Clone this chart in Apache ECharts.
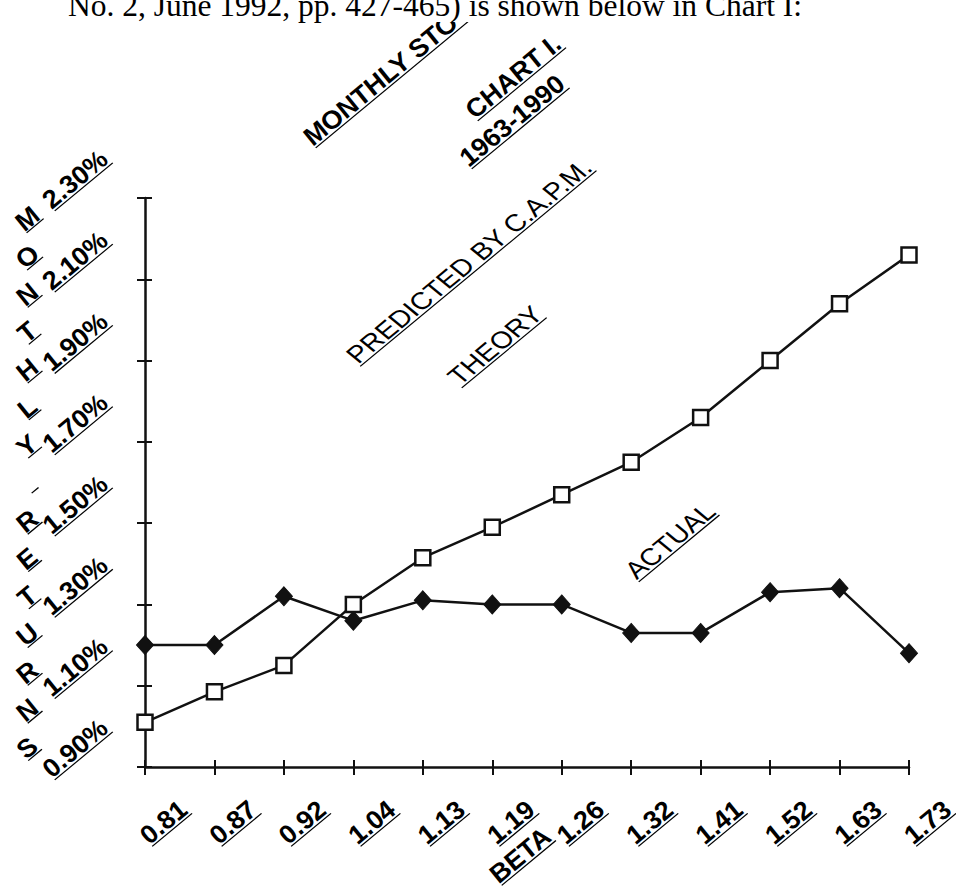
<!DOCTYPE html>
<html><head><meta charset="utf-8">
<script src="https://cdn.jsdelivr.net/npm/echarts@6/dist/echarts.min.js"></script>
<style>html,body{margin:0;padding:0;background:#fff}#c{width:956px;height:888px}</style>
</head><body><div id="c"></div>
<script>
// ---- data ----
const betaLabels = ['0.81','0.87','0.92','1.04','1.13','1.19','1.26','1.32','1.41','1.52','1.63','1.73'];
const theoryReturns = [1.01,1.085,1.15,1.30,1.415,1.49,1.57,1.65,1.76,1.90,2.04,2.16];
const actualReturns = [1.20,1.20,1.32,1.26,1.31,1.30,1.30,1.23,1.23,1.33,1.34,1.18];
const yTickValues = [0.9,1.1,1.3,1.5,1.7,1.9,2.1,2.3];
const yTickLabels = ['0.90%','1.10%','1.30%','1.50%','1.70%','1.90%','2.10%','2.30%'];
const yAxisTitle = 'MONTHLY RETURNS';
const xAxisTitle = 'BETA';
const titleLines = ['MONTHLY STOCK RETURNS','CHART I.','1963-1990'];
const theoryNotes = ['PREDICTED BY C.A.P.M.','THEORY'];
const actualNote = 'ACTUAL';
const introText = 'No. 2, June 1992, pp. 427-465) is shown below in Chart I:';

// ---- helpers ----
const INK = '#111';
const ROT = Math.PI / 4;      // 45 degree text
const SX = 1.207;             // horizontal stretch of the rotated text
const BI = 'italic bold 24px "Liberation Sans", Arial, sans-serif';
const REG = '24px "Liberation Sans", Arial, sans-serif';
const cv = document.createElement('canvas').getContext('2d');
function tw(t, f){ cv.font = f; return cv.measureText(t).width; }
function ulText(text, x, y, font, z){
  z = z || 5;
  const w = tw(text, font);
  return {type:'group', x:x, y:y, scaleX:SX, children:[
    {type:'group', rotation:ROT, children:[
      {type:'text', z:z, style:{text:text, x:0, y:0, font:font, fill:'#000', align:'left', verticalAlign:'bottom', textAlign:'left', textVerticalAlign:'bottom'}},
      {type:'line', z:z, shape:{x1:0, y1:-1.5, x2:w, y2:-1.5}, style:{stroke:'#000', lineWidth:1.1}}
    ]}
  ]};
}
function ulChar(ch, cx, cy, font){
  const w = Math.max(tw(ch, font), 8);
  return {type:'group', x:cx, y:cy, scaleX:SX, children:[
    {type:'group', rotation:ROT, children:[
      {type:'text', z:5, style:{text:ch, x:0, y:0, font:font, fill:'#000', align:'center', verticalAlign:'middle', textAlign:'center', textVerticalAlign:'middle'}},
      {type:'line', z:5, shape:{x1:-w/2, y1:9.5, x2:w/2, y2:9.5}, style:{stroke:'#000', lineWidth:1.1}}
    ]}
  ]};
}

const chart = echarts.init(document.getElementById('c'), null, {renderer:'svg', width:956, height:888});
const axisLineStyle = {color:INK, width:2.5};
const tickStyle = {color:INK, width:2};
const option = {
  animation:false,
  backgroundColor:'#fff',
  grid:{left:145, top:198, right:47, bottom:121, containLabel:false, outerBoundsMode:'none'},
  xAxis:[
    {type:'category', data:betaLabels, boundaryGap:false, position:'bottom',
     axisLine:{show:true, onZero:false, lineStyle:axisLineStyle},
     axisTick:{show:true, interval:0, length:8, lineStyle:tickStyle},
     axisLabel:{show:false, interval:0}, splitLine:{show:false}},
    {type:'category', data:betaLabels, boundaryGap:false, position:'bottom', offset:0,
     axisLine:{show:false}, axisTick:{show:true, inside:true, interval:0, length:7, lineStyle:tickStyle},
     axisLabel:{show:false}, splitLine:{show:false}}
  ],
  yAxis:[
    {type:'value', min:0.9, max:2.3, interval:0.2, position:'left',
     axisLine:{show:true, onZero:false, lineStyle:axisLineStyle},
     axisTick:{show:true, length:8, lineStyle:tickStyle},
     axisLabel:{show:false}, splitLine:{show:false}},
    {type:'value', min:0.9, max:2.3, interval:0.2, position:'left', offset:0,
     axisLine:{show:false}, axisTick:{show:true, inside:true, length:7, lineStyle:tickStyle},
     axisLabel:{show:false}, splitLine:{show:false}}
  ],
  series:[
    {name:'ACTUAL', type:'line', data:actualReturns, xAxisIndex:0, yAxisIndex:0,
     symbol:'diamond', symbolSize:[17,19], showAllSymbol:true,
     lineStyle:{color:INK, width:2.5}, itemStyle:{color:INK, borderColor:INK, borderWidth:1}, z:3},
    {name:'THEORY', type:'line', data:theoryReturns, xAxisIndex:0, yAxisIndex:0,
     symbol:'rect', symbolSize:15, showAllSymbol:true,
     lineStyle:{color:INK, width:2.5}, itemStyle:{color:'#fff', borderColor:INK, borderWidth:2.5}, z:4}
  ]
};
chart.setOption(option);

// ---- texts placed through the axes ----
const gfx = [];
const axisX = chart.convertToPixel({xAxisIndex:0}, 0);
const axisY = chart.convertToPixel({yAxisIndex:0}, yTickValues[0]);
yTickValues.forEach((v, i) => {
  const py = chart.convertToPixel({yAxisIndex:0}, v);
  gfx.push(ulText(yTickLabels[i], axisX - 89, py + 14, BI));
});
betaLabels.forEach((b, i) => {
  const px = chart.convertToPixel({xAxisIndex:0}, i);
  gfx.push(ulText(b, px + 8.5, axisY + 80.5, BI));
});
const midX = (chart.convertToPixel({xAxisIndex:0}, 0) + chart.convertToPixel({xAxisIndex:0}, betaLabels.length - 1)) / 2;
gfx.push(ulText(xAxisTitle, midX - 24, axisY + 119.5, BI));
// vertical stacked axis title
yAxisTitle.split('').forEach((ch, i) => {
  gfx.push(ulChar(ch, 27, 219 + i * 37.8, BI));
});
// chart title lines
gfx.push(ulText(titleLines[0], 317, 149, BI, 1));
gfx.push(ulText(titleLines[1], 479, 122, BI, 1));
gfx.push(ulText(titleLines[2], 473, 170, BI, 1));
// annotations
gfx.push(ulText(theoryNotes[0], 361.5, 367.5, REG));
gfx.push(ulText(theoryNotes[1], 463, 389, REG));
gfx.push(ulText(actualNote, 640, 583, REG));
// page text above the (cropped) chart
gfx.push({type:'rect', z:50, shape:{x:0, y:0, width:956, height:22}, style:{fill:'#fff'}});
gfx.push({type:'text', z:51, style:{text:introText, x:68, y:21, font:'31.5px "Liberation Serif", "Times New Roman", serif', fill:'#000', align:'left', verticalAlign:'bottom', textAlign:'left', textVerticalAlign:'bottom'}});
chart.setOption({graphic:gfx});
</script></body></html>
